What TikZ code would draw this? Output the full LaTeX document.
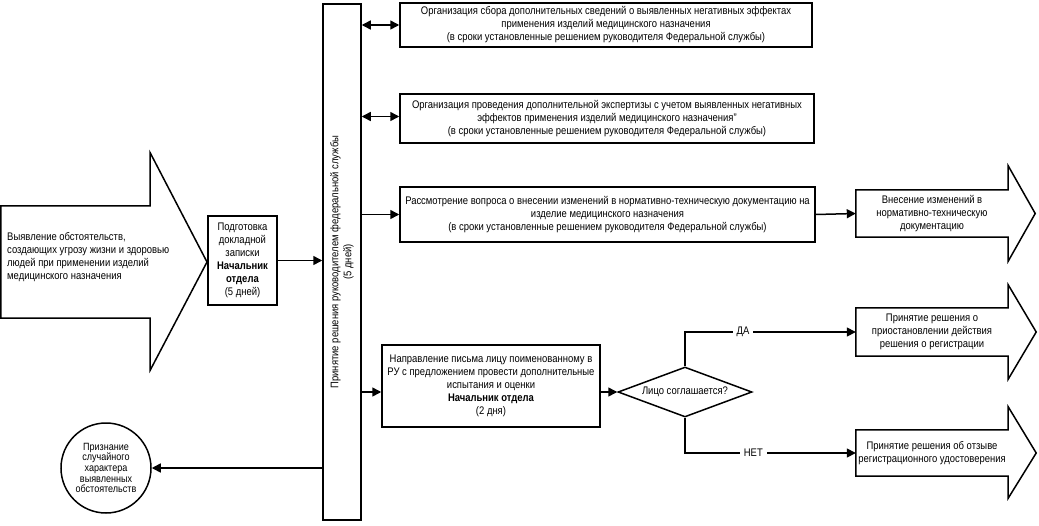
\documentclass[tikz,border=0pt]{standalone}
\usepackage{fontspec}
\setmainfont[FakeStretch=0.86]{Liberation Sans}
\usetikzlibrary{arrows.meta,shapes.geometric}

\begin{document}
\begin{tikzpicture}[x=1pt,y=-1pt,
    font=\fontsize{11}{13}\selectfont,
    box/.style={draw, line width=1.5pt, align=center, inner sep=0pt},
    body/.style={inner sep=0pt, align=center},
    outline/.style={draw, line width=1.5pt, line join=miter},
    link/.style={line width=1.5pt, -{Triangle[length=9pt,width=9pt]}},
    twoway/.style={line width=1.5pt, {Triangle[length=9pt,width=9pt]}-{Triangle[length=9pt,width=9pt]}},
    answer/.style={fill=white, inner sep=4pt},
  ]
  \useasboundingbox (0,0) rectangle (1039,525);

  % left block arrow and first step
  \node [body, minimum width=149, minimum height=112](start) at (75.5,262) {};
  \draw [outline] (start.north west) -- (start.north east) -- ([yshift=53pt]start.north east)
    -- (207,262) -- ([yshift=-52pt]start.south east) -- (start.south east) -- (start.south west) -- cycle;
  \node [anchor=west, align=left, inner sep=0pt](starttxt) at (7,257) {Выявление обстоятельств,\\создающих угрозу жизни и здоровью\\людей при применении изделий\\медицинского назначения};

  \node [box, minimum width=69, minimum height=89](prep) at (242.5,260.5) {Подготовка\\докладной\\записки\\\textbf{Начальник}\\\textbf{отдела}\\(5 дней)};

  % decision bar
  \node [box, minimum width=38, minimum height=516](bar) at (342,262) {};
  \node [rotate=90, align=center](barlbl) at (bar.center) {Принятие решения руководителем федеральной службы\\(5 дней)};

  % boxes right of the bar
  \node [box, minimum width=412, minimum height=44](collect) at (606,25) {Организация сбора дополнительных сведений о выявленных негативных эффектах\\применения изделий медицинского назначения\\(в сроки установленные решением руководителя Федеральной службы)};
  \node [box, minimum width=414, minimum height=49](expert) at (607,118.5) {Организация проведения дополнительной экспертизы с учетом выявленных негативных\\эффектов применения изделий медицинского назначения"\\(в сроки установленные решением руководителя Федеральной службы)};
  \node [box, minimum width=415, minimum height=55](review) at (607.5,214.5) {Рассмотрение вопроса о внесении изменений в нормативно-техническую документацию на\\изделие медицинского назначения\\(в сроки установленные решением руководителя Федеральной службы)};
  \node [box, minimum width=218, minimum height=82](letter) at (491,386) {Направление письма лицу поименованному в\\РУ с предложением провести дополнительные\\испытания и оценки\\\textbf{Начальник отдела}\\(2 дня)};
  \node [draw, diamond, line width=1.5pt, inner sep=0pt, aspect=2.68, minimum width=134, minimum height=50](agree) at (685,392) {Лицо соглашается?};

  % right block arrows
  \node [body, minimum width=152, minimum height=47](change) at (932,213.5) {Внесение изменений в\\нормативно-техническую\\документацию};
  \draw [outline] (change.north west) -- (change.north east) -- ([yshift=24pt]change.north east)
    -- ([xshift=27pt]change.east) -- ([yshift=-24pt]change.south east) -- (change.south east) -- (change.south west) -- cycle;
  \node [body, minimum width=152, minimum height=48](suspend) at (932,332) {Принятие решения о\\приостановлении действия\\решения о регистрации};
  \draw [outline] (suspend.north west) -- (suspend.north east) -- ([yshift=23pt]suspend.north east)
    -- ([xshift=28pt]suspend.east) -- ([yshift=-23pt]suspend.south east) -- (suspend.south east) -- (suspend.south west) -- cycle;
  \node [body, minimum width=152, minimum height=46](revoke) at (932,453) {Принятие решения об отзыве\\регистрационного удостоверения};
  \draw [outline] (revoke.north west) -- (revoke.north east) -- ([yshift=23pt]revoke.north east)
    -- ([xshift=28pt]revoke.east) -- ([yshift=-22pt]revoke.south east) -- (revoke.south east) -- (revoke.south west) -- cycle;

  \node [draw, circle, line width=1.5pt, inner sep=0pt, minimum size=90, align=center, font=\fontsize{10.5}{10.7}\selectfont](random) at (106,468) {Признание\\случайного\\характера\\выявленных\\обстоятельств};

  % connectors
  \draw [link] (prep.east) -- (prep.east -| bar.west);
  \draw [twoway] (bar.east |- collect) -- (collect.west);
  \draw [twoway] (bar.east |- expert.west) ++(0,-2) -- ([yshift=2pt]expert.west);
  \draw [link] (bar.east |- review) -- (review.west);
  \draw [link] (review.east) -- (change.west);
  \draw [link] (bar.east |- agree) -- (letter.west |- agree);
  \draw [link] (letter.east |- agree) -- (agree.west);
  \draw [link] (agree.north) |- node[answer, pos=0.67] {ДА} (suspend.west);
  \draw [link] (agree.south) |- node[answer, pos=0.70] {НЕТ} (revoke.west);
  \draw [link] (bar.west |- random) -- (random.east);
\end{tikzpicture}
\end{document}
